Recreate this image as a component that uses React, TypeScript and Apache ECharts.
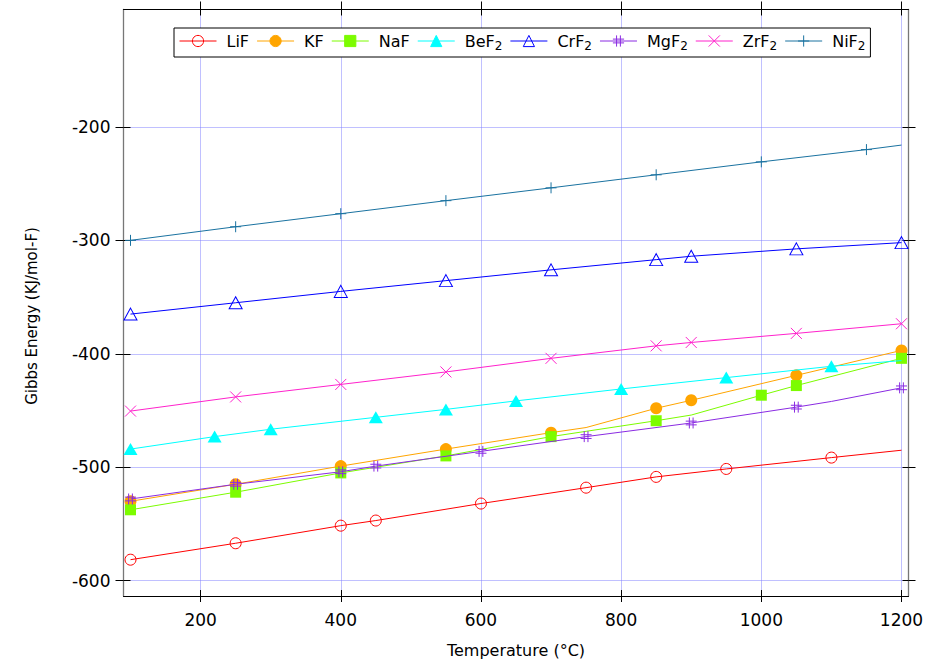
import React, { useEffect, useRef } from "react";
import * as echarts from "echarts";

const FONT = "DejaVu Sans";

const X_TICKS = [200, 400, 600, 800, 1000, 1200];
const Y_TICKS = [-600, -500, -400, -300, -200];

const NAMES = ["LiF", "KF", "NaF", "BeF2", "CrF2", "MgF2", "ZrF2", "NiF2"];

const LIF_T = [100, 250, 400, 450, 600, 750, 850, 950, 1100, 1200];
const LIF_G = [-581.5, -567, -551.5, -547, -532, -518, -508.5, -501.5, -491.5, -485];
const LIF_HIDE = [1200];

const KF_T = [100, 250, 400, 550, 700, 750, 850, 900, 1050, 1200];
const KF_G = [-530, -515, -499, -484, -469.5, -465, -448, -441, -419, -397];
const KF_HIDE = [750];

const NAF_T = [100, 250, 400, 550, 700, 850, 900, 1000, 1050, 1200];
const NAF_G = [-537.5, -522, -505, -490, -473, -459, -454, -436.5, -428, -404];
const NAF_HIDE = [900];

const BEF2_T = [100, 220, 300, 450, 550, 650, 800, 950, 1100, 1200];
const BEF2_G = [-484, -473, -466.5, -456, -449, -441.5, -431, -421, -411, -406];
const BEF2_HIDE = [1200];

const CRF2_T = [100, 250, 400, 550, 700, 850, 900, 1050, 1200];
const CRF2_G = [-365, -355, -345, -335.5, -326, -317, -314, -307.5, -302];
const CRF2_HIDE: number[] = [];

const MGF2_T = [100, 250, 400, 450, 600, 750, 900, 1050, 1100, 1200];
const MGF2_G = [-528, -515, -504, -499, -486, -473, -461, -447, -442, -430];
const MGF2_HIDE = [1100];

const ZRF2_T = [100, 250, 400, 550, 700, 850, 900, 1050, 1200];
const ZRF2_G = [-450.5, -438, -427, -416, -404, -393, -390, -382, -373.5];
const ZRF2_HIDE: number[] = [];

const NIF2_T = [100, 250, 400, 550, 700, 850, 1000, 1150, 1200];
const NIF2_G = [-300, -288, -276.5, -265, -253.7, -242.2, -230.8, -220, -216];
const NIF2_HIDE = [1200];

const COLORS = ["#ff0000", "#ffa500", "#7cfc00", "#00ffff", "#0000ff", "#8a2be2", "#ff22cc", "#1a72a0"];

const PLUS = "path://M5,0L5,10M0,5L10,5";
const CROSS = "path://M0,0L10,10M10,0L0,10";
const HASH = "path://M3.3,0L3.3,10M6.7,0L6.7,10M0,3.3L10,3.3M0,6.7L10,6.7";

function pts(t: number[], g: number[], hide: number[]) {
  return t.map((x, i) =>
    hide.includes(x) ? { value: [x, g[i]], symbol: "none" } : { value: [x, g[i]] }
  );
}

function mk(i: number, t: number[], g: number[], hide: number[], symbol: string, size: any, bw: number, hollow: boolean) {
  const c = COLORS[i];
  return {
    name: NAMES[i],
    type: "line",
    data: pts(t, g, hide),
    symbol,
    symbolSize: size,
    showAllSymbol: true,
    lineStyle: { color: c, width: 1 },
    itemStyle: { color: hollow ? "rgba(255,255,255,0)" : c, borderColor: c, borderWidth: bw },
    emphasis: { disabled: true },
    z: 2 + i,
  };
}

export default function App() {
  const ref = useRef<HTMLDivElement>(null);
  useEffect(() => {
    if (!ref.current) return;
    const chart = echarts.init(ref.current, null, { renderer: "svg" });
    const tickStyle = { color: "#000", width: 1 };
    const labelStyle = { fontFamily: FONT, fontSize: 17, color: "#000" };
    const baseX = { type: "value", min: 90, max: 1210 };
    const baseY = { type: "value", min: -613.5, max: -96.5 };
    const grid = { type: "dotted", color: "#8080ff", width: 1 };
    chart.setOption({
      animation: false,
      backgroundColor: "#fff",
      grid: { left: 123.5, right: 39.5, top: 9.5, bottom: 66, containLabel: false, outerBoundsMode: "none" },
      legend: {
        data: NAMES,
        left: 174,
        top: 28,
        orient: "horizontal",
        itemWidth: 37,
        itemHeight: 14,
        itemGap: 7.5,
        padding: [5, 5, 5, 5],
        borderColor: "#000",
        borderWidth: 1,
        backgroundColor: "#fff",
        itemStyle: { borderWidth: 1 },
        lineStyle: { width: 1 },
        formatter: (n: string) => (n.endsWith("2") ? n.slice(0, -1) + "{s|2}" : n),
        textStyle: {
          fontFamily: FONT,
          fontSize: 16,
          color: "#000",
          padding: [0, 0, 0, 5],
          rich: { s: { fontFamily: FONT, fontSize: 12, color: "#000", padding: [10, 0, 0, 0] } },
        },
      },
      xAxis: [
        {
          ...baseX,
          position: "bottom",
          name: "Temperature (°C)",
          nameLocation: "middle",
          nameGap: 46,
          nameTextStyle: { fontFamily: FONT, fontSize: 16, color: "#000" },
          axisLine: { show: true, onZero: false, lineStyle: { color: "#000", width: 1 } },
          axisTick: { show: true, inside: true, length: 6, customValues: X_TICKS, lineStyle: tickStyle },
          axisLabel: { show: true, customValues: X_TICKS, margin: 15, formatter: (v: number) => String(v), ...labelStyle },
          splitLine: { show: true, lineStyle: grid },
        },
        {
          ...baseX,
          position: "bottom",
          axisLine: { show: false, onZero: false },
          axisTick: { show: true, inside: false, length: 6, customValues: X_TICKS, lineStyle: tickStyle },
          axisLabel: { show: false },
          splitLine: { show: false },
        },
        {
          ...baseX,
          position: "top",
          axisLine: { show: true, onZero: false, lineStyle: { color: "#000", width: 1 } },
          axisTick: { show: true, inside: true, length: 6, customValues: X_TICKS, lineStyle: tickStyle },
          axisLabel: { show: false },
          splitLine: { show: false },
        },
        {
          ...baseX,
          position: "top",
          axisLine: { show: false, onZero: false },
          axisTick: { show: true, inside: false, length: 8, customValues: X_TICKS, lineStyle: tickStyle },
          axisLabel: { show: false },
          splitLine: { show: false },
        },
      ],
      yAxis: [
        {
          ...baseY,
          position: "left",
          axisLine: { show: true, onZero: false, lineStyle: { color: "#777", width: 1.3 } },
          axisTick: { show: true, inside: true, length: 7, customValues: Y_TICKS, lineStyle: tickStyle },
          axisLabel: { show: true, customValues: Y_TICKS, margin: 13, ...labelStyle },
          splitLine: { show: true, lineStyle: grid },
        },
        {
          ...baseY,
          position: "left",
          axisLine: { show: false, onZero: false },
          axisTick: { show: true, inside: false, length: 8, customValues: Y_TICKS, lineStyle: tickStyle },
          axisLabel: { show: false },
          splitLine: { show: false },
        },
        {
          ...baseY,
          position: "right",
          axisLine: { show: true, onZero: false, lineStyle: { color: "#777", width: 1.3 } },
          axisTick: { show: true, inside: true, length: 6, customValues: Y_TICKS, lineStyle: tickStyle },
          axisLabel: { show: false },
          splitLine: { show: false },
        },
        {
          ...baseY,
          position: "right",
          axisLine: { show: false, onZero: false },
          axisTick: { show: true, inside: false, length: 7, customValues: Y_TICKS, lineStyle: tickStyle },
          axisLabel: { show: false },
          splitLine: { show: false },
        },
      ],
      graphic: [
        {
          type: "text",
          x: 32,
          y: 316,
          rotation: Math.PI / 2,
          style: {
            text: "Gibbs Energy (KJ/mol-F)",
            fontFamily: FONT,
            fontSize: 15,
            fill: "#000",
            align: "center",
            verticalAlign: "middle",
          },
        },
      ],
      series: [
        mk(0, LIF_T, LIF_G, LIF_HIDE, "circle", 11, 1, true),
        mk(1, KF_T, KF_G, KF_HIDE, "circle", 12, 0, false),
        mk(2, NAF_T, NAF_G, NAF_HIDE, "rect", 11, 0, false),
        mk(3, BEF2_T, BEF2_G, BEF2_HIDE, "triangle", [14, 12], 0, false),
        mk(4, CRF2_T, CRF2_G, CRF2_HIDE, "triangle", [13, 12], 1, true),
        mk(5, MGF2_T, MGF2_G, MGF2_HIDE, HASH, 11, 1, false),
        mk(6, ZRF2_T, ZRF2_G, ZRF2_HIDE, CROSS, 11, 1, false),
        mk(7, NIF2_T, NIF2_G, NIF2_HIDE, PLUS, 11, 1, false),
      ],
    });
    return () => chart.dispose();
  }, []);
  return <div ref={ref} style={{ position: "absolute", left: 0, top: 0, width: 948, height: 662 }} />;
}
